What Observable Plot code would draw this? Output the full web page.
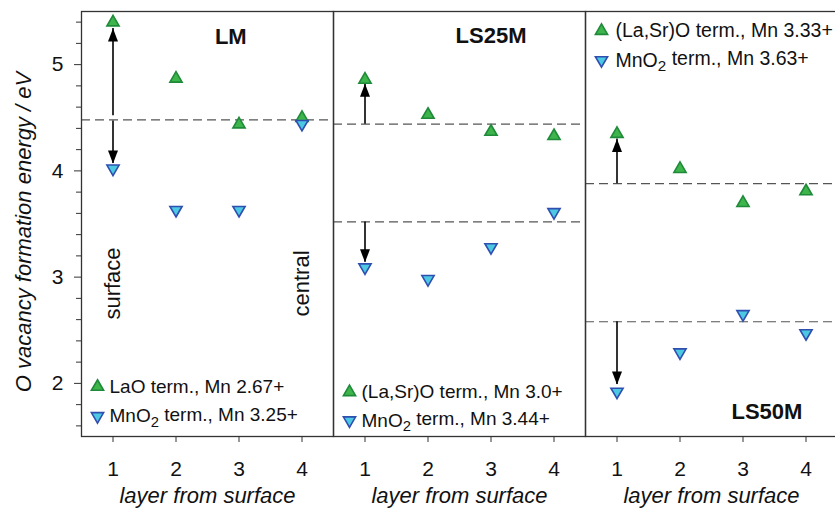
<!DOCTYPE html>
<html>
<head>
<meta charset="utf-8">
<script src="https://cdn.jsdelivr.net/npm/d3@7"></script>
<script src="https://cdn.jsdelivr.net/npm/@observablehq/plot@0.6"></script>
<style>
  html, body { margin: 0; padding: 0; background: #fff; }
  #chart { width: 835px; height: 508px; overflow: hidden; }
</style>
</head>
<body>
<div id="chart"></div>
<script>
// ---- data ----
const panels = ["LM", "LS25M", "LS50M"];
const layers = [1, 2, 3, 4];
const lmAO = [5.40, 4.87, 4.44, 4.50];
const lmMnO2 = [4.02, 3.63, 3.63, 4.44];
const ls25AO = [4.86, 4.53, 4.37, 4.33];
const ls25MnO2 = [3.09, 2.98, 3.28, 3.61];
const ls50AO = [4.35, 4.02, 3.70, 3.81];
const ls50MnO2 = [1.92, 2.29, 2.65, 2.47];

// dashed reference levels
const levelPanel = ["LM", "LS25M", "LS25M", "LS50M", "LS50M"];
const levelValue = [4.48, 4.44, 3.52, 3.88, 2.58];

// arrows (from reference level to surface value)
const arrowPanel = ["LM", "LM", "LS25M", "LS25M", "LS50M", "LS50M"];
const arrowLayer = [1, 1, 1, 1, 1, 1];
const arrowFrom = [4.52, 4.47, 4.44, 3.52, 3.88, 2.58];
const arrowTo = [5.34, 4.07, 4.82, 3.14, 4.30, 1.99];

// legend labels
const aoLabels = ["LaO term., Mn 2.67+", "(La,Sr)O term., Mn 3.0+", "(La,Sr)O term., Mn 3.33+"];
const mno2Labels = ["MnO₂ term., Mn 3.25+", "MnO₂ term., Mn 3.44+", "MnO₂ term., Mn 3.63+"];

const yTicks = [2, 3, 4, 5];
const yMinorTicks = [1.6, 1.8, 2.2, 2.4, 2.6, 2.8, 3.2, 3.4, 3.6, 3.8, 4.2, 4.4, 4.6, 4.8, 5.2, 5.4];
const xTicks = [1, 2, 3, 4];

// ---- build tables ----
const aoSeries = [lmAO, ls25AO, ls50AO];
const mnSeries = [lmMnO2, ls25MnO2, ls50MnO2];
const points = [];
panels.forEach((p, i) => {
  layers.forEach((l, j) => {
    points.push({panel: p, layer: l, energy: aoSeries[i][j], term: "AO"});
    points.push({panel: p, layer: l, energy: mnSeries[i][j], term: "MnO2"});
  });
});
const levels = levelPanel.map((p, i) => ({panel: p, value: levelValue[i]}));
const arrows = arrowPanel.map((p, i) => ({panel: p, layer: arrowLayer[i], from: arrowFrom[i], to: arrowTo[i]}));
const upArrows = arrows.filter(d => d.to > d.from);
const downArrows = arrows.filter(d => d.to < d.from);

// legend placement (annotation positions, in eV units of the y scale)
const legendRows = [
  {panel: "LM", term: "AO", y: 1.97, label: aoLabels[0]},
  {panel: "LM", term: "MnO2", y: 1.69, label: mno2Labels[0]},
  {panel: "LS25M", term: "AO", y: 1.92, label: aoLabels[1]},
  {panel: "LS25M", term: "MnO2", y: 1.65, label: mno2Labels[1]},
  {panel: "LS50M", term: "AO", y: 5.32, label: aoLabels[2]},
  {panel: "LS50M", term: "MnO2", y: 5.04, label: mno2Labels[2]}
];
const titleRows = [
  {panel: "LM", x: 2.87, y: 5.26},
  {panel: "LS25M", x: 3.0, y: 5.27},
  {panel: "LS50M", x: 3.38, y: 1.73}
];
const sideNotes = [
  {panel: "LM", x: 1, y: 2.94, label: "surface"},
  {panel: "LM", x: 4, y: 2.94, label: "central"}
];

// ---- symbols ----
const triUp = {draw(ctx) { ctx.moveTo(0, -6.8); ctx.lineTo(6.1, 3.7); ctx.lineTo(-6.1, 3.7); ctx.closePath(); }};
const triDown = {draw(ctx) { ctx.moveTo(0, 6.8); ctx.lineTo(6.1, -3.7); ctx.lineTo(-6.1, -3.7); ctx.closePath(); }};
const headUp = {draw(ctx) { ctx.moveTo(0, 0); ctx.lineTo(5, 13); ctx.lineTo(-5, 13); ctx.closePath(); }};
const headDown = {draw(ctx) { ctx.moveTo(0, 0); ctx.lineTo(5, -13); ctx.lineTo(-5, -13); ctx.closePath(); }};

const greenFill = "#3db54a", greenStroke = "#1f8a3a";
const blueFill = "#4cc8e2", blueStroke = "#2e4fb0";

const chart = Plot.plot({
  width: 835,
  height: 508,
  marginLeft: 81,
  marginRight: -2,
  marginTop: 11,
  marginBottom: 72,
  style: {fontFamily: "'Liberation Sans', Arial, sans-serif", fontSize: "21px", color: "#111", background: "white", overflow: "visible"},
  fx: {domain: panels, padding: 0, axis: null},
  x: {domain: [0.5, 4.5], axis: null},
  y: {domain: [1.5, 5.5], axis: null},
  marks: [
    Plot.ruleY(levels, {fx: "panel", y: "value", stroke: "#555", strokeWidth: 1.2, strokeDasharray: "9,5"}),
    Plot.ruleX(arrows, {fx: "panel", x: "layer", y1: "from", y2: "to", stroke: "#000", strokeWidth: 1.6}),
    Plot.dot(upArrows, {fx: "panel", x: "layer", y: "to", symbol: headUp, fill: "#000", stroke: "none"}),
    Plot.dot(downArrows, {fx: "panel", x: "layer", y: "to", symbol: headDown, fill: "#000", stroke: "none"}),
    Plot.dot(points.filter(d => d.term === "AO"), {fx: "panel", x: "layer", y: "energy", symbol: triUp, fill: greenFill, stroke: greenStroke, strokeWidth: 1.6}),
    Plot.dot(points.filter(d => d.term === "MnO2"), {fx: "panel", x: "layer", y: "energy", symbol: triDown, fill: blueFill, stroke: blueStroke, strokeWidth: 1.6}),
    // legends
    Plot.dot(legendRows.filter(d => d.term === "AO"), {fx: "panel", y: "y", frameAnchor: "left", dx: 16, symbol: triUp, fill: greenFill, stroke: greenStroke, strokeWidth: 1.6}),
    Plot.dot(legendRows.filter(d => d.term === "MnO2"), {fx: "panel", y: "y", frameAnchor: "left", dx: 16, symbol: triDown, fill: blueFill, stroke: blueStroke, strokeWidth: 1.6}),
    Plot.text(legendRows.filter(d => d.panel !== "LS50M"), {fx: "panel", y: "y", text: "label", frameAnchor: "left", dx: 28, textAnchor: "start", lineAnchor: "middle", fontSize: 19, fill: "#111"}),
    Plot.text(legendRows.filter(d => d.panel === "LS50M"), {fx: "panel", y: "y", text: "label", frameAnchor: "left", dx: 30, textAnchor: "start", lineAnchor: "middle", fontSize: 19.5, fill: "#111"}),
    // panel titles
    Plot.text(titleRows, {fx: "panel", x: "x", y: "y", text: "panel", fontWeight: "bold", fontSize: 22, fill: "#111"}),
    // side notes
    Plot.text(sideNotes, {fx: "panel", x: "x", y: "y", text: "label", rotate: -90, fontSize: 22, fill: "#111"}),
    // axes
    Plot.axisY({ticks: yTicks, tickFormat: d3.format("d"), tickSize: 7, tickPadding: 11, fontSize: 21, label: null, stroke: "#333"}),
    Plot.axisY({ticks: yMinorTicks, tickSize: 5, tickFormat: () => "", label: null, stroke: "#333"}),
    Plot.axisX({ticks: xTicks, tickFormat: d3.format("d"), tickSize: 6, tickPadding: 19, fontSize: 21, label: null, stroke: "#333"}),
    Plot.text(panels, {fx: d => d, text: () => "layer from surface", frameAnchor: "bottom", dy: 59, textAnchor: "middle", lineAnchor: "middle", fontStyle: "italic", fontSize: 22, fill: "#111"}),
    Plot.text(["O vacancy formation energy / eV"], {fx: ["LM"], text: d => d, frameAnchor: "left", dx: -58, dy: 8, textAnchor: "middle", lineAnchor: "middle", rotate: -90, fontStyle: "italic", fontSize: 22, fill: "#111"}),
    Plot.frame({stroke: "#333", strokeWidth: 1.3})
  ]
});

// subscript 2 in MnO2 labels
chart.querySelectorAll("text").forEach(t => {
  const s = t.textContent;
  if (s.includes("₂") && t.children.length === 0) {
    const [a, b] = s.split("₂");
    t.textContent = "";
    const ns = "http://www.w3.org/2000/svg";
    const t1 = document.createElementNS(ns, "tspan"); t1.textContent = a;
    const t2 = document.createElementNS(ns, "tspan"); t2.textContent = "2";
    t2.setAttribute("dy", "0.3em"); t2.setAttribute("font-size", "0.78em");
    const t3 = document.createElementNS(ns, "tspan"); t3.textContent = b;
    t3.setAttribute("dy", "-0.3em");
    t.append(t1, t2, t3);
  }
});

document.getElementById("chart").append(chart);
</script>
</body>
</html>
